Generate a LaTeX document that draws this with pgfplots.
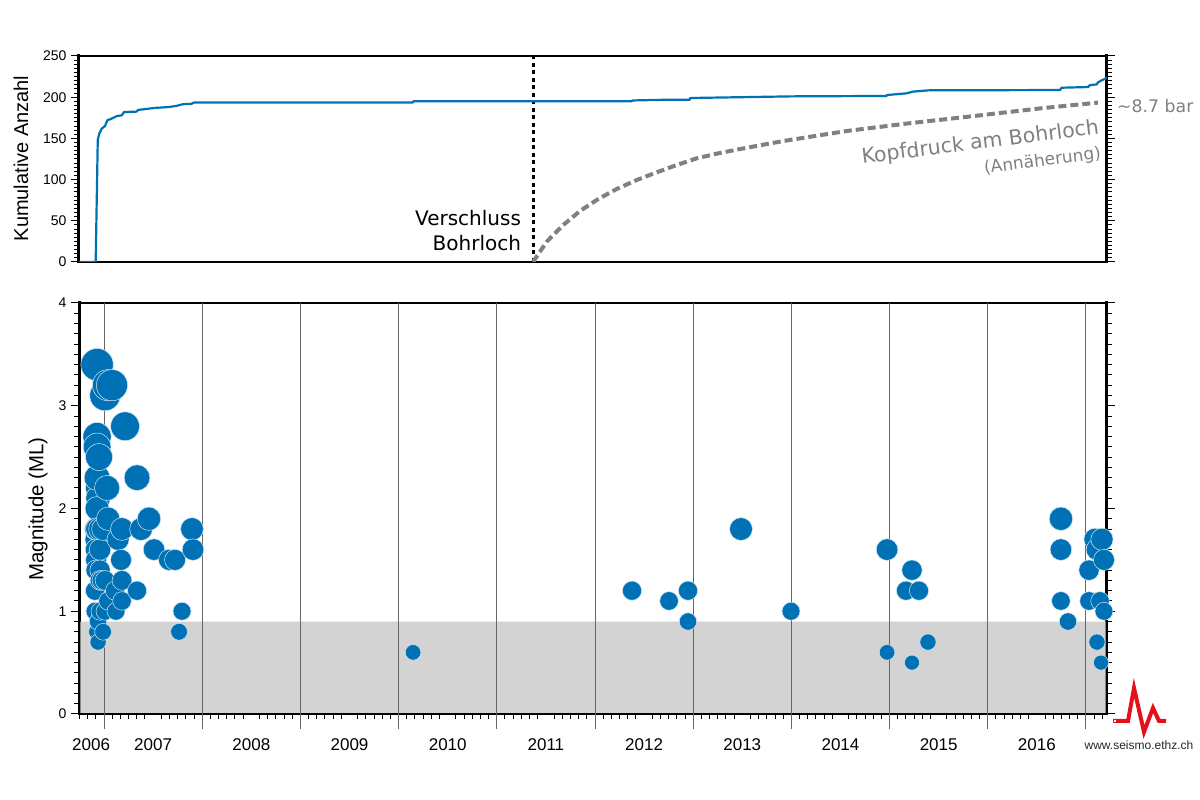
\documentclass[border=0pt]{standalone}
\usepackage{fontspec}
\setmainfont{Liberation Sans}
\newfontfamily\dejavu{DejaVu Sans}
\usepackage{pgfplots}
\pgfplotsset{compat=1.18}
\usepackage{pgfplotstable}
\definecolor{quakeblue}{HTML}{0071B5}
\definecolor{bandgray}{HTML}{D3D3D3}
\definecolor{notegray}{HTML}{808080}
\definecolor{logored}{HTML}{E2111A}
\newcommand{\fs}[1]{\fontsize{#1}{#1}\selectfont}

% cumulative count
\pgfplotstableread{
x y
2006.745 0
2006.915 0
2006.936 148
2006.952 156
2006.977 162
2007.010 165
2007.034 172
2007.078 174
2007.129 177
2007.180 178
2007.204 182
2007.333 182.5
2007.346 184.5
2007.448 186
2007.519 187
2007.655 188
2007.740 189.5
2007.804 191.5
2007.893 192
2007.916 193.5
2010.147 193.5
2010.147 195
2012.377 195
2012.377 196
2012.754 197
2012.967 197
2012.967 199
2013.487 200
2013.996 201
2014.971 201.5
2014.971 202.6
2015.174 204.7
2015.235 206.7
2015.394 208.3
2016.735 208.7
2016.752 211.5
2017.020 212.3
2017.041 214.7
2017.109 215.5
2017.122 218
2017.160 220.5
2017.200 222.7
2017.214 224
}\cumulative

% wellhead pressure (approximate)
\pgfplotstableread{
x y
2011.369 0
2011.508 24.7
2011.677 44.9
2011.847 61.9
2012.034 76.5
2012.221 88.6
2012.425 99.5
2012.628 108.8
2012.832 117.7
2013.036 125.8
2013.256 131.9
2013.477 137.1
2013.698 142
2013.918 146.8
2014.156 151.3
2014.564 159
2015.174 168
2015.849 177
2016.532 186.4
2017.122 193.4
}\pressure

% events: year, magnitude
\pgfplotstableread{
x m
2006.908 1.0
2006.908 1.2
2006.919 1.7
2006.919 1.8
2006.919 1.6
2006.919 1.5
2006.919 1.4
2006.929 1.8
2006.929 0.8
2006.929 3.4
2006.929 2.7
2006.929 2.6
2006.939 2.2
2006.939 2.1
2006.929 2.3
2006.929 2.0
2006.929 1.8
2006.939 0.9
2006.939 0.7
2006.949 2.5
2006.959 1.8
2006.959 1.6
2006.959 1.4
2006.959 1.3
2006.959 1.0
2006.980 1.3
2006.990 1.8
2006.990 0.8
2007.010 3.1
2007.010 1.3
2007.010 1.0
2007.031 2.2
2007.041 3.2
2007.041 1.9
2007.041 1.1
2007.081 3.2
2007.112 1.2
2007.122 1.0
2007.143 1.7
2007.173 1.5
2007.183 1.8
2007.183 1.3
2007.183 1.1
2007.214 2.8
2007.336 2.3
2007.336 1.2
2007.377 1.8
2007.458 1.9
2007.509 1.6
2007.662 1.5
2007.723 1.5
2007.764 0.8
2007.794 1.0
2007.896 1.8
2007.906 1.6
2010.147 0.6
2012.377 1.2
2012.754 1.1
2012.947 1.2
2012.947 0.9
2013.487 1.8
2013.996 1.0
2014.974 1.6
2014.974 0.6
2015.167 1.2
2015.228 1.4
2015.228 0.5
2015.299 1.2
2015.391 0.7
2016.745 1.9
2016.745 1.6
2016.745 1.1
2016.817 0.9
2017.031 1.4
2017.031 1.1
2017.092 1.7
2017.112 1.6
2017.112 0.7
2017.143 1.1
2017.153 0.5
2017.163 1.7
2017.183 1.5
2017.183 1.0
}\events

\pgfplotsset{
  panel/.style={
    scale only axis, width=1028pt, xmin=2006.745, xmax=2017.214,
    anchor=south west, tick align=outside, ytick pos=both, yticklabel pos=left,
    separate axis lines,
    x axis line style={line width=2pt, line cap=rect},
    y axis line style={line width=3pt, line cap=rect},
    major tick length=8pt, minor tick length=5pt,
    every tick/.append style={black, line width=1pt},
    /pgf/number format/assume math mode=true,
  },
}

\begin{document}
\begin{tikzpicture}[x=1pt,y=1pt]
\path[use as bounding box] (0,0) rectangle (1200,800);

\begin{axis}[panel, at={(79pt,538pt)}, height=206pt,
    ymin=0, ymax=250, ytick={0,50,...,250}, minor y tick num=9,
    xtick=\empty,
    yticklabel style={font=\fs{14}, xshift=-1pt}]
  \addplot[black, line width=3pt, dash pattern=on 4pt off 3.5pt] coordinates {(2011.369,0) (2011.369,250)};
  \addplot[notegray, line width=4pt, dash pattern=on 8pt off 4pt] table {\pressure};
  \addplot[quakeblue, line width=2.2pt, line join=round] table {\cumulative};
\end{axis}

\begin{axis}[panel, at={(79pt,86pt)}, height=411pt,
    ymin=0, ymax=4, ytick={0,1,2,3,4}, minor y tick num=9,
    yticklabel style={font=\fs{14}, xshift=-1pt},
    xtick pos=bottom,
    xtick={2006.868,2007.5,2008.5,2009.5,2010.5,2011.5,2012.5,2013.5,2014.5,2015.5,2016.5},
    xticklabels={2006,2007,2008,2009,2010,2011,2012,2013,2014,2015,2016},
    major x tick style={draw=none},
    xticklabel style={font=\fs{17}, yshift=-13pt},
    minor xtick={2006.75,2006.8333,2006.9167,
      2007.0833,2007.1667,2007.25,2007.3333,2007.4167,2007.5833,2007.6667,2007.75,2007.8333,2007.9167,
      2008.0833,2008.1667,2008.25,2008.3333,2008.4167,2008.5833,2008.6667,2008.75,2008.8333,2008.9167,
      2009.0833,2009.1667,2009.25,2009.3333,2009.4167,2009.5833,2009.6667,2009.75,2009.8333,2009.9167,
      2010.0833,2010.1667,2010.25,2010.3333,2010.4167,2010.5833,2010.6667,2010.75,2010.8333,2010.9167,
      2011.0833,2011.1667,2011.25,2011.3333,2011.4167,2011.5833,2011.6667,2011.75,2011.8333,2011.9167,
      2012.0833,2012.1667,2012.25,2012.3333,2012.4167,2012.5833,2012.6667,2012.75,2012.8333,2012.9167,
      2013.0833,2013.1667,2013.25,2013.3333,2013.4167,2013.5833,2013.6667,2013.75,2013.8333,2013.9167,
      2014.0833,2014.1667,2014.25,2014.3333,2014.4167,2014.5833,2014.6667,2014.75,2014.8333,2014.9167,
      2015.0833,2015.1667,2015.25,2015.3333,2015.4167,2015.5833,2015.6667,2015.75,2015.8333,2015.9167,
      2016.0833,2016.1667,2016.25,2016.3333,2016.4167,2016.5833,2016.6667,2016.75,2016.8333,2016.9167,
      2017.0833,2017.1667},
    extra x ticks={2007,2008,2009,2010,2011,2012,2013,2014,2015,2016,2017},
    extra x tick labels={},
    extra x tick style={major tick length=15pt,
      major x tick style={draw=black!60, line width=1pt}},
  ]
  \addplot[fill=bandgray, draw=none] coordinates
    {(2006.76,0.01) (2017.2,0.01) (2017.2,0.9) (2006.76,0.9) (2006.76,0.01)};
  \addplot[ycomb, black!60, line width=1pt, no marks] coordinates
    {(2007,4) (2008,4) (2009,4) (2010,4) (2011,4) (2012,4) (2013,4) (2014,4) (2015,4) (2016,4) (2017,4)};
  \addplot[scatter, only marks, mark=*,
    visualization depends on={\thisrow{m} \as \evmag},
    scatter/@pre marker code/.code={%
      \pgfmathsetmacro\evr{6+3*\evmag}%
      \scope[mark size=\evr pt, fill=quakeblue, draw=quakeblue!18!white, line width=0.5pt]},
    scatter/@post marker code/.code={\endscope}]
    table[x=x, y=m, meta=m] {\events};
\end{axis}

% axis titles and annotations
\node[rotate=90, font=\fs{20}] at (21,641.5) {Kumulative Anzahl};
\node[rotate=90, font=\fs{20.4}] at (38,291) {Magnitude (ML)};
\node[anchor=east, font=\dejavu\fs{20}] at (524.5,582) {Verschluss};
\node[anchor=east, font=\dejavu\fs{20}] at (524.5,557) {Bohrloch};
\node[anchor=east, rotate=7.2, font=\dejavu\fs{20.5}, text=notegray, inner sep=1pt] at (1100,672) {Kopfdruck am Bohrloch};
\node[anchor=east, rotate=7.2, font=\dejavu\fs{17}, text=notegray, inner sep=1pt] at (1102,646) {(Annäherung)};
\node[anchor=west, font=\dejavu\fs{17.3}, text=notegray, inner sep=0pt] at (1117,694) {\textasciitilde8.7 bar};

% logo
\draw[logored, line width=4pt, line join=miter] (1113,79) -- (1128,79) -- (1134,112) -- (1144,68) -- (1153,92) -- (1159,79) -- (1166,79);
\fill[white] (1113.8,78.4) rectangle (1116.2,79.6);
\fill[white] (1114.4,77.8) rectangle (1115.6,80.2);
\node[font=\fs{12}, text=black!85] at (1139,55) {www.seismo.ethz.ch};
\end{tikzpicture}
\end{document}
